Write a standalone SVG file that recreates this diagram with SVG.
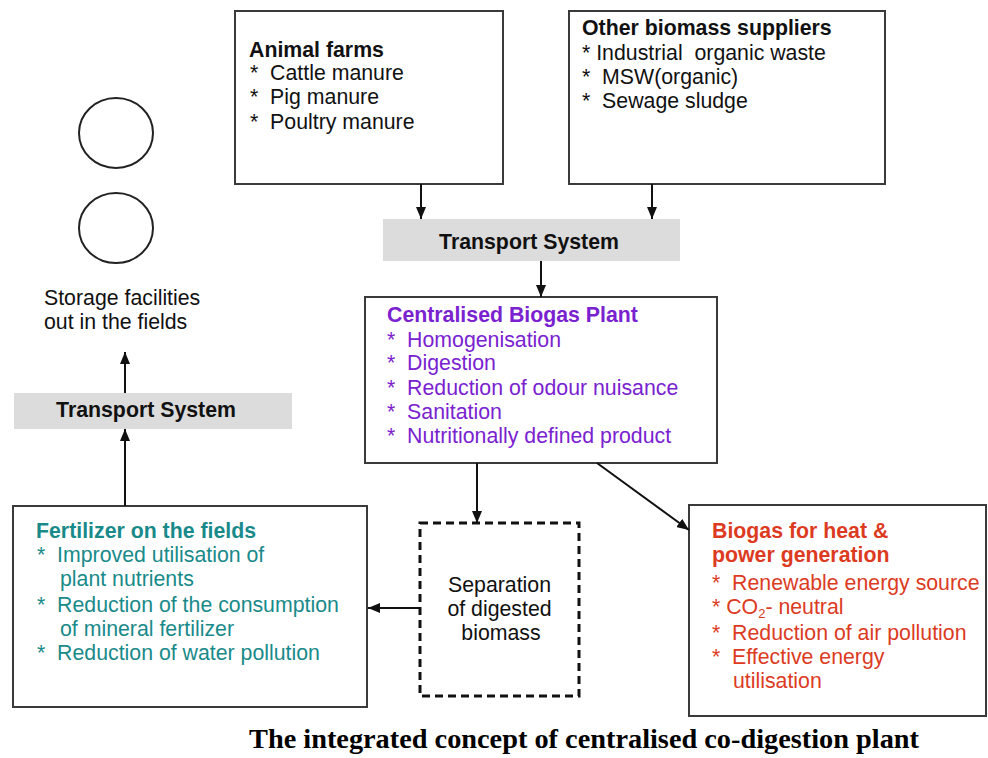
<svg xmlns="http://www.w3.org/2000/svg" width="988" height="758" viewBox="0 0 988 758">
<style>
.box{fill:#ffffff;stroke:#3a3a3a;stroke-width:2}
.dash{fill:#ffffff;stroke:#111;stroke-width:3;stroke-dasharray:8 5}
.tbox{fill:#dcdcdc;stroke:none}
.t{font-family:"Liberation Sans",Arial,sans-serif;font-size:21.3px;white-space:pre}
.b{font-weight:bold}
.k{fill:#111}
.p{fill:#7a22d0}
.g{fill:#198a8a}
.r{fill:#dc3b1f}
.c{stroke:#111;stroke-width:2;fill:none;marker-end:url(#ah)}
.title{font-family:"Liberation Serif","Times New Roman",serif;font-weight:bold;font-size:27px;fill:#000}
</style>
<defs>
<marker id="ah" markerUnits="userSpaceOnUse" markerWidth="12" markerHeight="10" refX="12" refY="5" orient="auto">
<path d="M0,0 L12,5 L0,10 z" fill="#111"/>
</marker>
</defs>
<rect width="988" height="758" fill="#ffffff"/>

<g id="animal-farms">
<rect class="box" x="235" y="11" width="268" height="173"/>
<text class="t b k" x="249" y="57">Animal farms</text>
<text class="t k" x="250" y="80" xml:space="preserve">*  Cattle manure</text>
<text class="t k" x="250" y="104" xml:space="preserve">*  Pig manure</text>
<text class="t k" x="250" y="129" xml:space="preserve">*  Poultry manure</text>
</g>

<g id="other-biomass">
<rect class="box" x="569" y="11" width="316" height="173"/>
<text class="t b k" x="582" y="35">Other biomass suppliers</text>
<text class="t k" x="582" y="60" xml:space="preserve">* Industrial  organic waste</text>
<text class="t k" x="582" y="84" xml:space="preserve">*  MSW(organic)</text>
<text class="t k" x="582" y="108" xml:space="preserve">*  Sewage sludge</text>
</g>

<g id="transport-top">
<rect class="tbox" x="383" y="219" width="297" height="42"/>
<text class="t b k" x="529" y="249" text-anchor="middle">Transport System</text>
</g>

<g id="central-plant">
<rect class="box" x="365" y="297" width="352" height="166"/>
<text class="t b p" x="387" y="322">Centralised Biogas Plant</text>
<text class="t p" x="387" y="347" xml:space="preserve">*  Homogenisation</text>
<text class="t p" x="387" y="370" xml:space="preserve">*  Digestion</text>
<text class="t p" x="387" y="395" xml:space="preserve">*  Reduction of odour nuisance</text>
<text class="t p" x="387" y="419" xml:space="preserve">*  Sanitation</text>
<text class="t p" x="387" y="443" xml:space="preserve">*  Nutritionally defined product</text>
</g>

<g id="storage">
<ellipse cx="116" cy="133" rx="37" ry="35" fill="none" stroke="#222" stroke-width="2"/>
<ellipse cx="116" cy="228" rx="37" ry="35" fill="none" stroke="#222" stroke-width="2"/>
<text class="t k" x="44" y="305">Storage facilities</text>
<text class="t k" x="44" y="329">out in the fields</text>
</g>

<g id="transport-left">
<rect class="tbox" x="14" y="393" width="278" height="36"/>
<text class="t b k" x="146" y="417" text-anchor="middle">Transport System</text>
</g>

<g id="fertilizer">
<rect class="box" x="13" y="506" width="354" height="201"/>
<text class="t b g" x="36" y="538">Fertilizer on the fields</text>
<text class="t g" x="37" y="562" xml:space="preserve">*  Improved utilisation of</text>
<text class="t g" x="60" y="586">plant nutrients</text>
<text class="t g" x="37" y="612" xml:space="preserve">*  Reduction of the consumption</text>
<text class="t g" x="60" y="636">of mineral fertilizer</text>
<text class="t g" x="37" y="660" xml:space="preserve">*  Reduction of water pollution</text>
</g>

<g id="separation">
<rect class="dash" x="420" y="523" width="159" height="173"/>
<text class="t k" x="499.5" y="592" text-anchor="middle">Separation</text>
<text class="t k" x="499.5" y="616" text-anchor="middle">of digested</text>
<text class="t k" x="501" y="640" text-anchor="middle">biomass</text>
</g>

<g id="biogas">
<rect class="box" x="689" y="505" width="297" height="211"/>
<text class="t b r" x="712" y="538">Biogas for heat &amp;</text>
<text class="t b r" x="712" y="562">power generation</text>
<text class="t r" x="712" y="590" xml:space="preserve">*  Renewable energy source</text>
<text class="t r" x="712" y="614" xml:space="preserve">* CO<tspan font-size="13" dy="4">2</tspan><tspan dy="-4">- neutral</tspan></text>
<text class="t r" x="712" y="640" xml:space="preserve">*  Reduction of air pollution</text>
<text class="t r" x="712" y="664" xml:space="preserve">*  Effective energy</text>
<text class="t r" x="733" y="688">utilisation</text>
</g>

<g id="connectors">
<path class="c" d="M421,184 L421,219"/>
<path class="c" d="M652,184 L652,219"/>
<path class="c" d="M541,261 L541,297"/>
<path class="c" d="M477,463 L477,523"/>
<path class="c" d="M597,463 L689,530"/>
<path class="c" d="M420,608 L368,608"/>
<path class="c" d="M125,506 L125,429"/>
<path class="c" d="M125,393 L125,352"/>
</g>

<text class="title" x="249" y="748" textLength="670" lengthAdjust="spacingAndGlyphs">The integrated concept of centralised co-digestion plant</text>
</svg>
